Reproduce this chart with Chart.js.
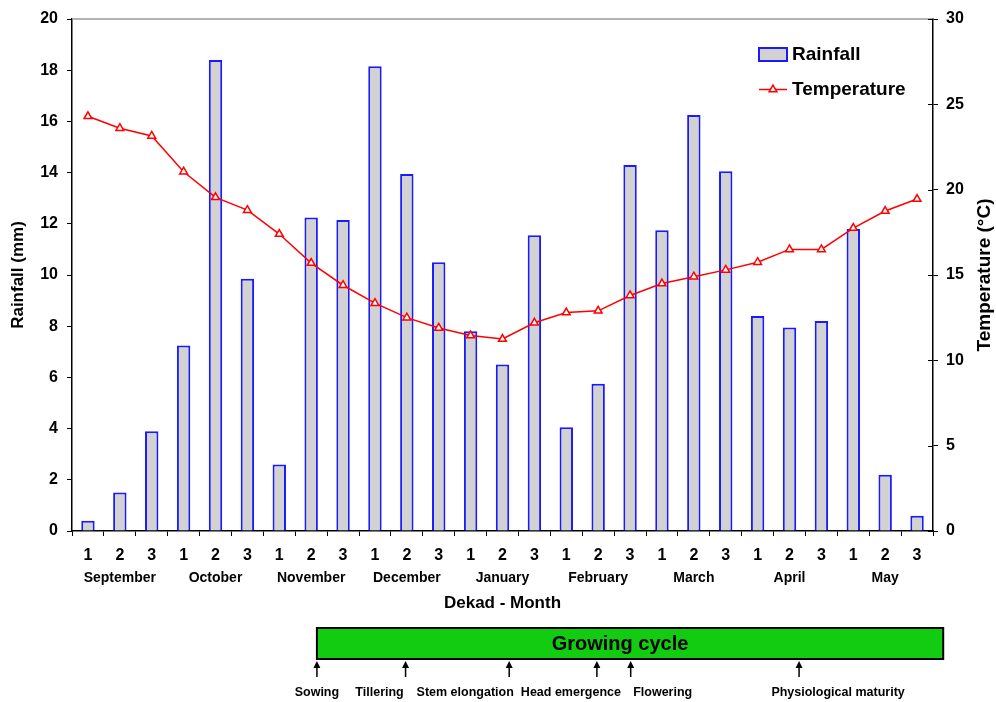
<!DOCTYPE html>
<html>
<head>
<meta charset="utf-8">
<script src="https://cdn.jsdelivr.net/npm/chart.js@4"></script>
<style>
  html, body { margin: 0; padding: 0; background: #fff; }
  #wrap { width: 996px; height: 702px; position: relative; }
</style>
</head>
<body>
<div id="wrap"><canvas id="chart"></canvas></div>
<script>
// dekad labels (3 per month), months under the middle dekad
const dekads = ['1','2','3','1','2','3','1','2','3','1','2','3','1','2','3',
                '1','2','3','1','2','3','1','2','3','1','2','3'];
const months = ['September','October','November','December','January',
                'February','March','April','May'];

// rainfall per dekad (mm), left axis
const rainfall = [0.4, 1.5, 3.9, 7.25, 18.4, 9.85, 2.6, 12.25, 12.15, 18.15, 13.95,
                  10.5, 7.8, 6.5, 11.55, 4.05, 5.75, 14.3, 11.75, 16.25, 14.05,
                  8.4, 7.95, 8.2, 11.8, 2.2, 0.6];
// mean temperature per dekad (°C), right axis
const temperature = [24.3, 23.6, 23.15, 21.05, 19.55, 18.8, 17.4, 15.7, 14.4, 13.35,
                     12.5, 11.9, 11.45, 11.25, 12.2, 12.8, 12.9, 13.8, 14.5, 14.9,
                     15.3, 15.75, 16.5, 16.5, 17.75, 18.75, 19.45];

// crop phenology, position given as dekad index (0 = 1st dekad of September)
const stages = ['Sowing', 'Tillering', 'Stem elongation', 'Head emergence',
                'Flowering', 'Physiological maturity'];
const stageDekad = [7.18, 9.96, 13.21, 15.96, 17.02, 22.3];
const cycleEnd = 26.82;

const BOLD = 'bold';
const FAMILY = '"Liberation Sans", Arial, sans-serif';

// extra drawing: top border, legend, month names, right title, growing cycle
const extras = {
  id: 'extras',
  afterDraw(chart) {
    const { ctx, chartArea: a, scales } = chart;
    const x = scales.x, y1 = scales.y1;
    ctx.save();

    // top frame line
    ctx.strokeStyle = '#999';
    ctx.lineWidth = 1.5;
    ctx.beginPath();
    ctx.moveTo(a.left, a.top);
    ctx.lineTo(a.right, a.top);
    ctx.stroke();

    // right axis ticks also cross into the plot
    ctx.strokeStyle = '#000';
    ctx.lineWidth = 1;
    y1.ticks.forEach(t => {
      const py = Math.round(y1.getPixelForValue(t.value)) + 0.5;
      ctx.beginPath();
      ctx.moveTo(a.right - 5, py);
      ctx.lineTo(a.right, py);
      ctx.stroke();
    });

    // month names
    ctx.fillStyle = '#000';
    ctx.font = `${BOLD} 14px ${FAMILY}`;
    ctx.textAlign = 'center';
    ctx.textBaseline = 'middle';
    months.forEach((m, i) => {
      ctx.fillText(m, x.getPixelForValue(i * 3 + 1), 578);
    });

    // right axis title, reading bottom to top
    ctx.save();
    ctx.translate(985, (a.top + a.bottom) / 2);
    ctx.rotate(-Math.PI / 2);
    ctx.font = `${BOLD} 19px ${FAMILY}`;
    ctx.fillText('Temperature (°C)', 0, 0);
    ctx.restore();

    // legend
    const lx = a.right - 174, ly = a.top + 29;
    const bar = chart.data.datasets[0], line = chart.data.datasets[1];
    ctx.fillStyle = bar.backgroundColor;
    ctx.fillRect(lx, ly, 28, 13);
    ctx.strokeStyle = bar.borderColor;
    ctx.lineWidth = 2;
    ctx.strokeRect(lx, ly, 28, 13);
    ctx.strokeStyle = line.borderColor;
    ctx.lineWidth = line.borderWidth;
    ctx.beginPath();
    ctx.moveTo(lx, ly + 41.5);
    ctx.lineTo(lx + 28, ly + 41.5);
    ctx.stroke();
    ctx.fillStyle = '#fff';
    Chart.helpers.drawPoint(ctx, {
      pointStyle: 'triangle', radius: 4.5, borderWidth: line.pointBorderWidth
    }, lx + 14, ly + 41.5);
    ctx.fillStyle = '#000';
    ctx.font = `${BOLD} 19px ${FAMILY}`;
    ctx.textAlign = 'left';
    ctx.fillText(bar.label, lx + 33, ly + 7);
    ctx.fillText(line.label, lx + 33, ly + 42);

    // growing cycle bar
    const gx0 = x.getPixelForValue(stageDekad[0]);
    const gx1 = x.getPixelForValue(cycleEnd);
    ctx.fillStyle = '#11CC11';
    ctx.fillRect(gx0, 628, gx1 - gx0, 31);
    ctx.strokeStyle = '#000';
    ctx.lineWidth = 2;
    ctx.strokeRect(gx0, 628, gx1 - gx0, 31);
    ctx.fillStyle = '#000';
    ctx.font = `${BOLD} 20px ${FAMILY}`;
    ctx.textAlign = 'center';
    ctx.fillText('Growing cycle', (gx0 + gx1) / 2 - 10, 644);

    // stage arrows and names
    const nudge = [0, -26, -44, -26, 32, 39];
    ctx.font = `${BOLD} 12.5px ${FAMILY}`;
    stages.forEach((s, i) => {
      const px = x.getPixelForValue(stageDekad[i]);
      ctx.strokeStyle = '#000';
      ctx.lineWidth = 1.5;
      ctx.beginPath();
      ctx.moveTo(px, 666);
      ctx.lineTo(px, 677);
      ctx.stroke();
      ctx.beginPath();
      ctx.moveTo(px, 661);
      ctx.lineTo(px - 3.5, 668);
      ctx.lineTo(px + 3.5, 668);
      ctx.closePath();
      ctx.fill();
      ctx.fillText(s, px + nudge[i], 693);
    });

    ctx.restore();
  }
};

new Chart(document.getElementById('chart'), {
  data: {
    labels: dekads,
    datasets: [
      {
        type: 'bar',
        label: 'Rainfall',
        data: rainfall,
        yAxisID: 'y',
        backgroundColor: '#D2D2D2',
        borderColor: '#1A1AFF',
        borderWidth: 2,
        borderSkipped: 'bottom',
        categoryPercentage: 1,
        barPercentage: 0.42,
        order: 2
      },
      {
        type: 'line',
        label: 'Temperature',
        data: temperature,
        yAxisID: 'y1',
        borderColor: '#FF0000',
        borderWidth: 1.5,
        pointStyle: 'triangle',
        pointRadius: 4.5,
        pointBackgroundColor: '#fff',
        pointBorderColor: '#FF0000',
        pointBorderWidth: 1.5,
        tension: 0,
        order: 1
      }
    ]
  },
  options: {
    responsive: true,
    maintainAspectRatio: false,
    animation: false,
    layout: { padding: { top: 19, bottom: 88, left: 0, right: 0 } },
    plugins: {
      legend: { display: false },
      tooltip: { enabled: false }
    },
    scales: {
      x: {
        type: 'category',
        offset: true,
        grid: { offset: true, drawOnChartArea: false, tickLength: 5, color: '#000' },
        border: { color: '#000', width: 1.5 },
        ticks: {
          color: '#000', font: { family: FAMILY, size: 16, weight: BOLD },
          padding: 10, maxRotation: 0, autoSkip: false
        },
        title: {
          display: true, text: 'Dekad - Month', color: '#000',
          font: { family: FAMILY, size: 17, weight: BOLD },
          padding: { top: 0, bottom: 0 }
        },
        afterFit: s => { s.height = 83; }
      },
      y: {
        position: 'left',
        min: 0, max: 20,
        grid: { drawOnChartArea: false, tickLength: 5, color: '#000' },
        border: { color: '#000', width: 1.5 },
        ticks: {
          stepSize: 2, color: '#000', padding: 9,
          font: { family: FAMILY, size: 16, weight: BOLD }
        },
        title: {
          display: true, text: 'Rainfall (mm)', color: '#000',
          font: { family: FAMILY, size: 17, weight: BOLD },
          padding: { top: 8, bottom: 0 }
        },
        afterFit: s => { s.width = 72; }
      },
      y1: {
        position: 'right',
        min: 0, max: 30,
        grid: { drawOnChartArea: false, tickLength: 5, color: '#000' },
        border: { color: '#000', width: 1.5 },
        ticks: {
          stepSize: 5, color: '#000', padding: 8,
          font: { family: FAMILY, size: 16, weight: BOLD }
        },
        afterFit: s => { s.width = 63; }
      }
    }
  },
  plugins: [extras]
});
</script>
</body>
</html>
